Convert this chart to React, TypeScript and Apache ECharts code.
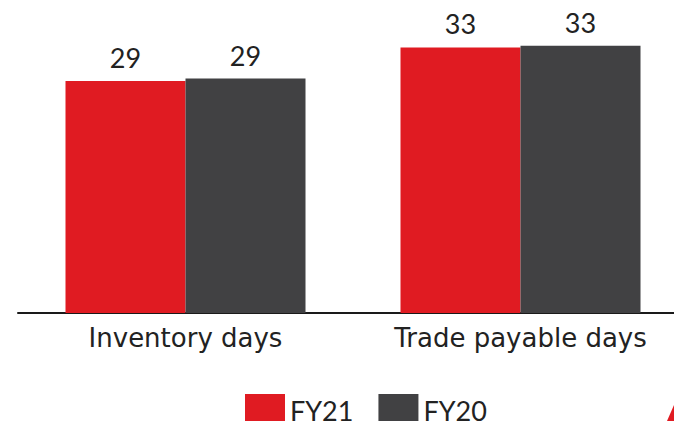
import React, { useEffect, useRef } from "react";
import * as echarts from "echarts";

const categories = ["Inventory days", "Trade payable days"];
const fy21 = [29, 33.2];
const fy20 = [29.3, 33.4];
const seriesNames = ["FY21", "FY20"];

const RED = "#E01B22";
const DARK = "#414143";
const FONT = "Lato, 'Open Sans', sans-serif";
const AXIS_FONT = "'DejaVu Sans', sans-serif";

export default function App() {
  const ref = useRef<HTMLDivElement>(null);
  useEffect(() => {
    if (!ref.current) return;
    const chart = echarts.init(ref.current, undefined, { renderer: "svg" });
    const labelCfg = {
      show: true,
      position: "top" as const,
      distance: 10,
      fontSize: 27,
      fontFamily: FONT,
      color: "#222",
      formatter: (p: any) => String(Math.round(p.value)),
    };
    chart.setOption({
      animation: false,
      backgroundColor: "#fff",
      grid: { left: 18, right: 2, top: 9, bottom: 108 },
      legend: {
        data: seriesNames,
        top: 394,
        left: 245,
        padding: 0,
        itemWidth: 40,
        itemHeight: 32,
        itemGap: 25,
        itemTextGap: 10,
        icon: "rect",
        textStyle: { fontSize: 27, fontFamily: FONT, color: "#222" },
      },
      xAxis: {
        type: "category",
        data: categories,
        axisLine: { lineStyle: { color: "#1a1a1a", width: 2 } },
        axisTick: { show: false },
        axisLabel: { fontSize: 26, fontFamily: AXIS_FONT, color: "#222", margin: 12 },
      },
      yAxis: {
        type: "value",
        min: 0,
        max: 38,
        show: false,
        splitLine: { show: false },
      },
      series: [
        {
          name: seriesNames[0],
          type: "bar",
          data: fy21,
          barWidth: 120,
          barGap: "0%",
          itemStyle: { color: RED },
          label: labelCfg,
        },
        {
          name: seriesNames[1],
          type: "bar",
          data: fy20,
          barWidth: 120,
          barGap: "0%",
          itemStyle: { color: DARK },
          label: labelCfg,
        },
      ],
      graphic: [
        {
          type: "polygon",
          shape: { points: [[667, 421], [674, 405], [674, 421]] },
          style: { fill: RED },
        },
      ],
    });
    return () => chart.dispose();
  }, []);
  return (
    <div
      style={{
        position: "fixed",
        left: 0,
        top: 0,
        width: 674,
        height: 421,
        overflow: "hidden",
      }}
    >
      <div ref={ref} style={{ width: 690, height: 421 }} />
    </div>
  );
}
